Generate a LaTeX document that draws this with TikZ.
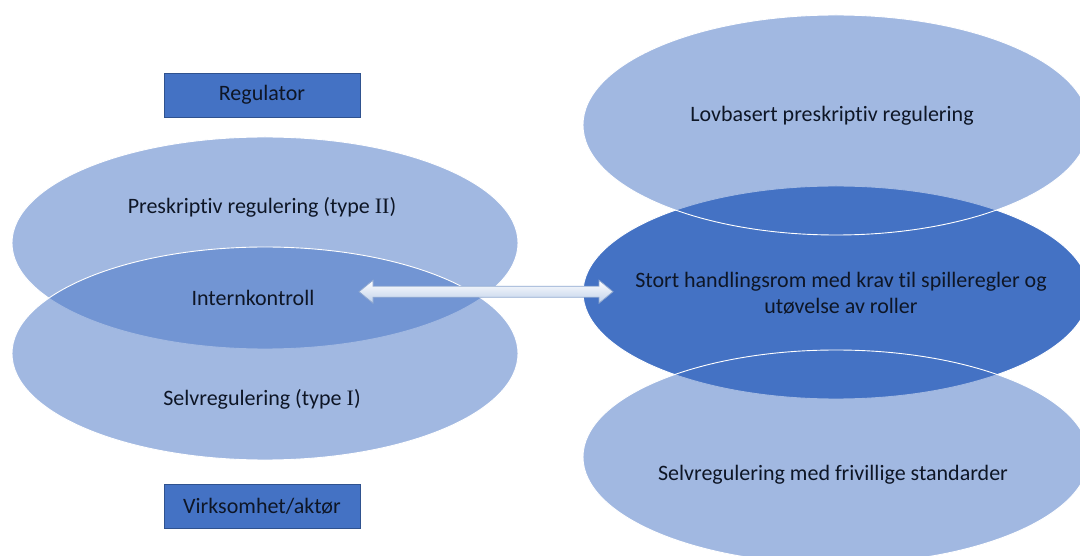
\documentclass[tikz,border=0pt]{standalone}
\usepackage{fontspec}
\setmainfont{Carlito}[Ligatures=NoCommon]
\newfontfamily\romanfont{Liberation Serif}
\usetikzlibrary{calc}
\definecolor{accent}{HTML}{4472C4}
\definecolor{boxedge}{HTML}{2F528F}
\definecolor{txt}{HTML}{0E1626}
\definecolor{arrowedge}{HTML}{8FA8D0}
\definecolor{arrowlow}{HTML}{BFD0EA}
\tikzset{
  lightell/.style={fill=accent, fill opacity=0.5, draw=white, draw opacity=1, line width=0.9pt},
  darkell/.style={fill=accent, draw=white, line width=0.9pt},
  labelbox/.style={fill=accent, draw=boxedge, line width=0.7pt, minimum width=196pt, minimum height=44pt, inner sep=0pt, text=txt, font=\fontsize{22}{26}\selectfont},
  lbl/.style={text=txt, font=\fontsize{22}{26}\selectfont, align=center, inner sep=0pt},
  blockarrow/.style={draw=arrowedge, line width=0.8pt, top color=white, bottom color=arrowlow, line join=miter}
}
\begin{document}
\begin{tikzpicture}[x=1pt,y=1pt]
\useasboundingbox (0,0) rectangle (1080,555);
\clip (0,0) rectangle (1080,555);
% left ellipses
\path[lightell] (265,312) ellipse [x radius=253, y radius=106];
\path[lightell] (265,201.5) ellipse [x radius=253, y radius=106.5];
% right ellipses
\path[darkell] (836,262.5) ellipse [x radius=253, y radius=106.5];
\path[lightell] (836,430) ellipse [x radius=253, y radius=110];
\path[lightell] (836,98) ellipse [x radius=253, y radius=107];
% boxes
\node[labelbox] (reg) at (262,460) {Regulator};
\node[labelbox] (virk) at (262,49) {Virksomhet/aktør};
% labels
\node[lbl] (presk) at (262,348) {Preskriptiv regulering (type {\romanfont II})};
\node[lbl] (intern) at (253,257.5) {Internkontroll};
\node[lbl] (selv) at (262,156) {Selvregulering (type {\romanfont I})};
\node[lbl] (lov) at (832,439) {Lovbasert preskriptiv regulering};
\node[lbl] (stort) at (841,262) {Stort handlingsrom med krav til spilleregler og\\utøvelse av roller};
\node[lbl] (frivillig) at (833,80) {Selvregulering med frivillige standarder};
% double block arrow
\coordinate (al) at (359,263.3);
\coordinate (ar) at (613,263.3);
\path[blockarrow] (al) -- ($(al)+(14,11.5)$) -- ($(al)+(14,5.5)$) -- ($(ar)+(-14,5.5)$) -- ($(ar)+(-14,11.5)$) -- (ar) -- ($(ar)+(-14,-11.5)$) -- ($(ar)+(-14,-5.5)$) -- ($(al)+(14,-5.5)$) -- ($(al)+(14,-11.5)$) -- cycle;
\end{tikzpicture}
\end{document}
